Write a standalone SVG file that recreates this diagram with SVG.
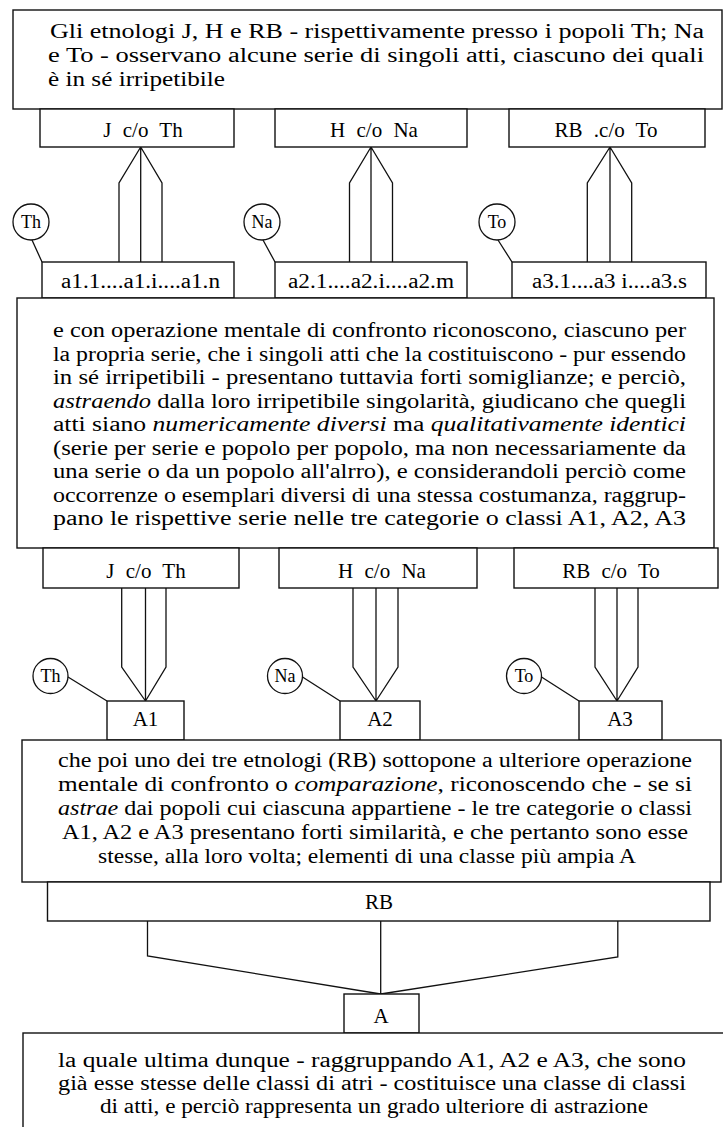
<svg xmlns="http://www.w3.org/2000/svg" width="723" height="1127" viewBox="0 0 723 1127">
<style>
.box{fill:#fff;stroke:#111;stroke-width:1.4}
.ln{fill:none;stroke:#111;stroke-width:1.3;stroke-linejoin:miter}
.t{font-family:"Liberation Serif","Times New Roman",serif;font-size:20px;fill:#000}
.lab{font-family:"Liberation Serif","Times New Roman",serif;font-size:21px;fill:#000;word-spacing:6px;text-anchor:middle}
.c{text-anchor:middle}
.i{font-style:italic}
.circ{fill:#fff;stroke:#111;stroke-width:1.3}
.ct{font-family:"Liberation Serif","Times New Roman",serif;font-size:18px;text-anchor:middle;fill:#000}
</style>
<rect width="723" height="1127" fill="#fff"/>

<g id="connectors">
  <path class="ln" d="M140.7,147 L119,183 L119,262 M140.7,147 L162,183 L162,262 M140.7,147 L140.7,262"/>
  <path class="ln" d="M371,147 L349.5,183 L349.5,262 M371,147 L392.5,183 L392.5,262 M371,147 L371,262"/>
  <path class="ln" d="M610,147 L587.3,183 L587.3,262 M610,147 L631.7,183 L631.7,262 M610,147 L610,262"/>
  <path class="ln" d="M32,240 L42,262 M263,240 L275,262 M498,240 L512,262"/>
  <path class="ln" d="M121.7,588 L121.7,667 L145.5,701 M166,588 L166,667 L145.5,701 M145.5,588 L145.5,701"/>
  <path class="ln" d="M353,588 L353,667 L376,701 M398,588 L398,667 L376,701 M376,588 L376,701"/>
  <path class="ln" d="M595,588 L595,667 L617,701 M638,588 L638,667 L617,701 M617,588 L617,701"/>
  <path class="ln" d="M68,677 L107,701 M302.5,677 L340,701 M541.5,677 L579,701"/>
  <path class="ln" d="M147.5,921 L147.5,956 L380.7,994 M617.8,921 L617.8,957 L380.7,994 M380.7,921 L380.7,994"/>
</g>

<g id="intro">
  <rect class="box" x="13" y="10" width="709" height="99"/>
  <text class="t" x="50" y="38" textLength="654" lengthAdjust="spacingAndGlyphs">Gli etnologi J, H e RB - rispettivamente presso i popoli Th; Na</text>
  <text class="t" x="48" y="62" textLength="656" lengthAdjust="spacingAndGlyphs">e To - osservano alcune serie di singoli atti, ciascuno dei quali</text>
  <text class="t" x="48" y="86" textLength="177" lengthAdjust="spacingAndGlyphs">è in sé irripetibile</text>
</g>

<g id="J1"><rect class="box" x="40" y="109" width="194" height="38"/><text class="lab" x="143" y="137">J c/o Th</text></g>
<g id="H1"><rect class="box" x="275" y="109" width="192" height="38"/><text class="lab" x="374" y="137">H c/o Na</text></g>
<g id="RB1"><rect class="box" x="509" y="109" width="196" height="38"/><text class="lab" x="606" y="137">RB .c/o To</text></g>

<g id="Th1"><circle class="circ" cx="31" cy="222" r="18"/><text class="ct" x="31" y="228">Th</text></g>
<g id="Na1"><circle class="circ" cx="262" cy="222" r="18"/><text class="ct" x="262" y="228">Na</text></g>
<g id="To1"><circle class="circ" cx="497" cy="222" r="18"/><text class="ct" x="497" y="228">To</text></g>

<g id="a1"><rect class="box" x="42" y="262" width="192" height="36"/><text class="t" x="61" y="288" textLength="159" lengthAdjust="spacingAndGlyphs">a1.1....a1.i....a1.n</text></g>
<g id="a2"><rect class="box" x="275" y="262" width="192" height="36"/><text class="t" x="288" y="288" textLength="166" lengthAdjust="spacingAndGlyphs">a2.1....a2.i....a2.m</text></g>
<g id="a3"><rect class="box" x="512" y="262" width="194" height="36"/><text class="t" x="532" y="288" textLength="155" lengthAdjust="spacingAndGlyphs">a3.1....a3 i....a3.s</text></g>

<g id="confronto">
  <rect class="box" x="17" y="298" width="697" height="250"/>
  <text class="t" x="53" y="337" textLength="633" lengthAdjust="spacingAndGlyphs">e con operazione mentale di confronto riconoscono, ciascuno per</text>
  <text class="t" x="53" y="360.5" textLength="633" lengthAdjust="spacingAndGlyphs">la propria serie, che i singoli atti che la costituiscono - pur essendo</text>
  <text class="t" x="53" y="384" textLength="633" lengthAdjust="spacingAndGlyphs">in sé irripetibili - presentano tuttavia forti somiglianze; e perciò,</text>
  <text class="t" x="53" y="407.5" textLength="633" lengthAdjust="spacingAndGlyphs"><tspan class="i">astraendo</tspan> dalla loro irripetibile singolarità, giudicano che quegli</text>
  <text class="t" x="53" y="431" textLength="633" lengthAdjust="spacingAndGlyphs">atti siano <tspan class="i">numericamente diversi</tspan> ma <tspan class="i">qualitativamente identici</tspan></text>
  <text class="t" x="53" y="454.5" textLength="633" lengthAdjust="spacingAndGlyphs">(serie per serie e popolo per popolo, ma non necessariamente da</text>
  <text class="t" x="53" y="478" textLength="633" lengthAdjust="spacingAndGlyphs">una serie o da un popolo all'alrro), e considerandoli perciò come</text>
  <text class="t" x="53" y="501.5" textLength="633" lengthAdjust="spacingAndGlyphs">occorrenze o esemplari diversi di una stessa costumanza, raggrup-</text>
  <text class="t" x="53" y="525" textLength="633" lengthAdjust="spacingAndGlyphs">pano le rispettive serie nelle tre categorie o classi A1, A2, A3</text>
</g>

<g id="J2"><rect class="box" x="43" y="548" width="196" height="40"/><text class="lab" x="146" y="578">J c/o Th</text></g>
<g id="H2"><rect class="box" x="279" y="548" width="198" height="40"/><text class="lab" x="382" y="578">H c/o Na</text></g>
<g id="RB2"><rect class="box" x="514" y="548" width="204" height="40"/><text class="lab" x="611" y="578">RB c/o To</text></g>

<g id="Th2"><circle class="circ" cx="50.5" cy="676" r="17.5"/><text class="ct" x="50.5" y="682">Th</text></g>
<g id="Na2"><circle class="circ" cx="285" cy="676" r="17.5"/><text class="ct" x="285" y="682">Na</text></g>
<g id="To2"><circle class="circ" cx="524" cy="676" r="17.5"/><text class="ct" x="524" y="682">To</text></g>

<g id="A1"><rect class="box" x="107" y="701" width="77" height="39"/><text class="lab" x="145.5" y="726">A1</text></g>
<g id="A2"><rect class="box" x="340" y="701" width="80" height="39"/><text class="lab" x="380" y="726">A2</text></g>
<g id="A3"><rect class="box" x="579" y="701" width="83" height="39"/><text class="lab" x="620" y="726">A3</text></g>

<g id="comparazione">
  <rect class="box" x="22" y="740" width="699" height="142"/>
  <text class="t" x="58" y="767" textLength="634" lengthAdjust="spacingAndGlyphs">che poi uno dei tre etnologi (RB) sottopone a ulteriore operazione</text>
  <text class="t" x="58" y="791" textLength="634" lengthAdjust="spacingAndGlyphs">mentale di confronto o <tspan class="i">comparazione</tspan>, riconoscendo che - se si</text>
  <text class="t" x="58" y="815" textLength="634" lengthAdjust="spacingAndGlyphs"><tspan class="i">astrae</tspan> dai popoli cui ciascuna appartiene - le tre categorie o classi</text>
  <text class="t" x="62" y="839" textLength="626" lengthAdjust="spacingAndGlyphs">A1, A2 e A3 presentano forti similarità, e che pertanto sono esse</text>
  <text class="t" x="98" y="863" textLength="538" lengthAdjust="spacingAndGlyphs">stesse, alla loro volta; elementi di una classe più ampia A</text>
</g>

<g id="RB3"><rect class="box" x="47.5" y="882" width="662.5" height="39"/><text class="lab" x="379" y="909">RB</text></g>

<g id="A"><rect class="box" x="344" y="994" width="75" height="39"/><text class="lab" x="381" y="1023">A</text></g>

<g id="conclusione">
  <rect class="box" x="23" y="1033" width="710" height="110"/>
  <text class="t" x="58" y="1067" textLength="628" lengthAdjust="spacingAndGlyphs">la quale ultima dunque - raggruppando A1, A2 e A3, che sono</text>
  <text class="t" x="58" y="1090" textLength="628" lengthAdjust="spacingAndGlyphs">già esse stesse delle classi di atri - costituisce una classe di classi</text>
  <text class="t c" x="374" y="1113" textLength="548" lengthAdjust="spacingAndGlyphs">di atti, e perciò rappresenta un grado ulteriore di astrazione</text>
</g>
</svg>
